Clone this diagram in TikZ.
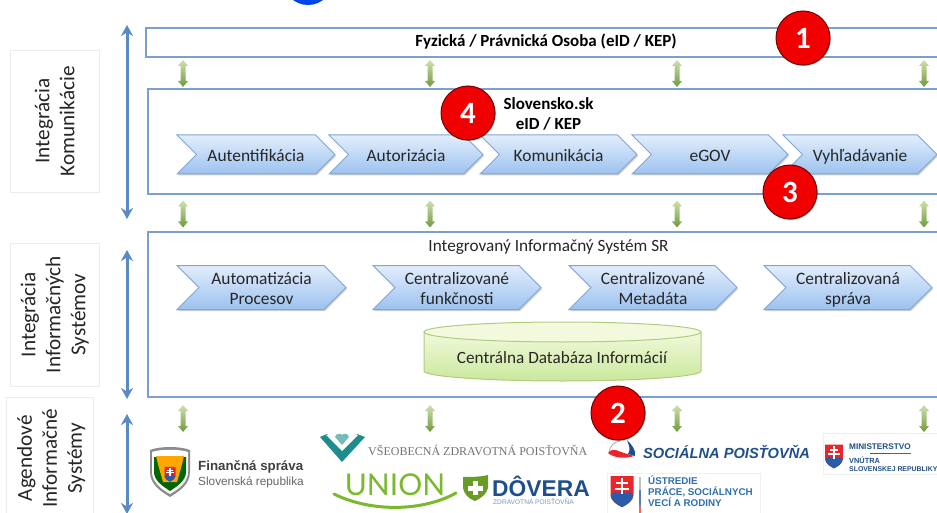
\documentclass[tikz,border=0pt]{standalone}
\usepackage{fontspec}
\setmainfont{Carlito}
\newfontfamily\lato{Lato}
\newfontfamily\libsans{Liberation Sans}
\newfontfamily\libserif{Liberation Serif}
\usetikzlibrary{shapes.symbols,shadows,arrows.meta}
\definecolor{frame}{HTML}{7BA0D0}
\definecolor{bluearrow}{HTML}{5A8AC6}
\definecolor{chevtop}{HTML}{E3EEFC}
\definecolor{chevbot}{HTML}{9CC2EF}
\definecolor{chevline}{HTML}{7FA6D6}
\definecolor{greentop}{HTML}{CFE0B0}
\definecolor{greenbot}{HTML}{6F9A3A}
\definecolor{txt}{HTML}{262626}
\definecolor{badge}{HTML}{F00000}
\definecolor{navy}{HTML}{1F4E8C}
\definecolor{ustblue}{HTML}{2F6FAE}
\definecolor{vszp}{HTML}{1C8C8C}
\definecolor{uniong}{HTML}{7AB82E}
\definecolor{slred}{HTML}{E8262C}
\definecolor{slblue}{HTML}{2A5CA8}
\definecolor{dbtop}{HTML}{F2F9DC}
\definecolor{dbbot}{HTML}{C9E89B}
\definecolor{dbline}{HTML}{B0CC80}
\newcommand{\ct}{\rule{0pt}{19pt}}
\newcommand{\cb}{\rule[-5pt]{0pt}{5pt}}
\tikzset{
  x=1pt,y=-1pt,
  panel/.style={draw=frame,line width=2pt,fill=white,anchor=north west,inner sep=0,outer sep=0},
  sidebox/.style={draw=black!8,line width=.5pt,fill=white,anchor=north west,inner sep=0},
  sidetext/.style={rotate=90,align=center,font=\fontsize{21.2}{25}\selectfont,text=txt},
  chev/.style={signal,signal to=east,signal from=west,signal pointer angle=90,
    draw=chevline,line width=1pt,top color=chevtop,bottom color=chevbot,
    inner sep=0,outer sep=0,minimum height=39pt,text=txt,align=center,
    font=\fontsize{17.4}{20}\selectfont,
    drop shadow={shadow xshift=1pt,shadow yshift=-1.5pt,opacity=.18,fill=black}},
  span/.style={{Stealth[length=11pt,width=12pt]}-{Stealth[length=11pt,width=12pt]},line width=3pt,draw=bluearrow},
  greenfill/.style={top color=greentop,bottom color=greenbot,draw=none},
  badgec/.style={circle,minimum size=54pt,inner sep=0,fill=badge,draw=black!55!red,line width=1pt,text=white,
    font=\bfseries\fontsize{31}{31}\selectfont,
    drop shadow={shadow xshift=.8pt,shadow yshift=-1pt,opacity=.3,fill=black}},
  label/.style={text=txt,align=center,font=\fontsize{17.2}{20}\selectfont,inner sep=0},
  strong/.style={text=black,align=center,font=\bfseries\fontsize{17}{20}\selectfont,inner sep=0},
  crest/.pic={
    \fill[slred] (-10,-13) -- (10,-13) -- (10,3) .. controls (10,9) and (4,12) .. (0,14) .. controls (-4,12) and (-10,9) .. (-10,3) -- cycle;
    \fill[slblue] (-10,4) .. controls (-7,0) and (-5,0) .. (-3.5,3) .. controls (-2,-1) and (2,-1) .. (3.5,3) .. controls (5,0) and (7,0) .. (10,4) .. controls (9,9) and (4,12) .. (0,14) .. controls (-4,12) and (-9,9) .. (-10,4) -- cycle;
    \fill[white] (-1,-11) rectangle (1,3);
    \fill[white] (-5,-7.5) rectangle (5,-5.7);
    \fill[white] (-6.5,-3) rectangle (6.5,-1);
  },
  updownarrow/.pic={
    \shade[greenfill] (0,-13.5) -- (5,-7.5) -- (2.5,-7.5) -- (2.5,7.5) -- (5,7.5) -- (0,13.5)
      -- (-5,7.5) -- (-2.5,7.5) -- (-2.5,-7.5) -- (-5,-7.5) -- cycle;
  },
}
\begin{document}
\begin{tikzpicture}
\useasboundingbox (0,0) rectangle (937,513);
\fill[white] (0,0) rectangle (937,513);
\clip (0,0) rectangle (937,513);

% fragment of a blue disc at the top edge
\fill[blue!70!cyan!90!black] (308,-20) circle (25);

% side labels
\node[sidebox,minimum width=89pt,minimum height=142pt] (s1) at (10,50) {};
\node[sidebox,minimum width=89pt,minimum height=143pt] (s2) at (10,243) {};
\node[sidebox,minimum width=87pt,minimum height=125pt] (s3) at (6,397) {};
\node[sidetext] (st1) at (s1.center) {Integrácia\\Komunikácie};
\node[sidetext] (st2) at (s2.center) {Integrácia\\Informačných\\Systémov};
\node[sidetext] (st3) at ([xshift=1.5pt,yshift=1.5pt]s3.center) {Agendové\\Informačné\\Systémy};

% panels
\node[panel,minimum width=810pt,minimum height=29pt] (p1) at (146,28) {};
\node[panel,minimum width=810pt,minimum height=105pt] (p2) at (148,89) {};
\node[panel,minimum width=810pt,minimum height=165pt] (p3) at (148,232) {};
\node[strong] (t1) at (546,41.5) {Fyzická / Právnická Osoba (eID / KEP)};
\node[strong] (t2) at (548.5,113.5) {Slovensko.sk\\eID / KEP};
\node[label] (t3) at (548.5,247) {Integrovaný Informačný Systém SR};

% span arrows
\coordinate (a1t) at (127,25); \coordinate (a1b) at (127,219);
\coordinate (a2t) at (127,250); \coordinate (a2b) at (127,399);
\coordinate (a3t) at (127,414); \coordinate (a3b) at (127,514);
\draw[span] (a1t) -- (a1b);
\draw[span] (a2t) -- (a2b);
\draw[span] (a3t) -- (a3b);

% green arrows
\foreach \gx in {183,430,677,924}{
  \pic at (\gx,73.5) {updownarrow};
  \pic at (\gx,214) {updownarrow};
  \pic at (\gx,418.5) {updownarrow};
}

% chevrons row 1
\node[chev,minimum width=158pt] (c1) at (256,154.5) {\ct\cb Autentifikácia};
\node[chev,minimum width=154pt] (c2) at (406,154.5) {\ct\cb Autorizácia};
\node[chev,minimum width=157pt] (c3) at (558.5,154.5) {\ct\cb Komunikácia};
\node[chev,minimum width=156pt] (c4) at (710,154.5) {\ct\cb eGOV};
\node[chev,minimum width=154pt] (c5) at (860,154.5) {\ct\cb Vyhľadávanie};
% chevrons row 2
\node[chev,minimum width=169pt] (d1) at (261.5,287.5) {\ct Automatizácia\\\cb Procesov};
\node[chev,minimum width=168pt] (d2) at (457,287.5) {\ct Centralizované\\\cb funkčnosti};
\node[chev,minimum width=168pt] (d3) at (653,287.5) {\ct Centralizované\\\cb Metadáta};
\node[chev,minimum width=168pt] (d4) at (848,287.5) {\ct Centralizovaná\\\cb správa};

% database cylinder
\shade[top color=dbtop,bottom color=dbbot,draw=dbline,line width=1pt]
  (424,332) -- (424,371) .. controls (424,376.5) and (486,381) .. (562.5,381)
  .. controls (639,381) and (701,376.5) .. (701,371) -- (701,332) -- cycle;
\path[fill=dbtop,draw=dbline,line width=1pt] (562.5,332) ellipse[x radius=138.5pt,y radius=10pt];
\node[label] (db) at (562,358) {Centrálna Databáza Informácií};

% Financna sprava logo
\fill[black!45] (150,450) .. controls (160,446) and (180,446) .. (190,450) -- (190,472) .. controls (190,485) and (178,492) .. (170,497) .. controls (162,492) and (150,485) .. (150,472) -- cycle;
\fill[white] (152,452) .. controls (160,449) and (180,449) .. (188,452) -- (188,472) .. controls (188,483) and (177,490) .. (170,494) .. controls (163,490) and (152,483) .. (152,472) -- cycle;
\fill[green!40!black] (154,457) -- (186,457) -- (186,472) .. controls (186,481) and (176,487) .. (170,491) .. controls (164,487) and (154,481) .. (154,472) -- cycle;
\fill[orange!70!yellow] (156,456) -- (184,456) -- (181,468) -- (177,482) -- (163,482) -- (159,468) -- cycle;
\pic[scale=.55] at (170,474) {crest};
\node[inner sep=0,anchor=west,text=black!75,font=\libsans\bfseries\fontsize{13.3}{15}\selectfont] (fs1) at (198,467) {Finančná správa};
\node[inner sep=0,anchor=west,text=black!60,font=\libsans\fontsize{11.8}{13}\selectfont] (fs2) at (198,482) {Slovenská republika};

% VsZP logo
\fill[vszp] (320,437) -- (327,434) -- (342,449) -- (357,434) -- (365,437) -- (342,462) -- cycle;
\fill[white] (326,435) -- (330,434) -- (342,446) -- (354,434) -- (358,435) -- (342,451) -- cycle;
\fill[vszp!60!white] (342,445) -- (335,437) .. controls (336,433) and (341,433) .. (342,435) .. controls (343,433) and (348,433) .. (349,437) -- cycle;
\node[inner sep=0,anchor=west,text=black!55,font=\libserif\fontsize{12}{13}\selectfont] (vz) at (368,450) {VŠEOBECNÁ ZDRAVOTNÁ POISŤOVŇA};

% Union logo
\node[inner sep=0,text=uniong,font=\lato\fontsize{30}{30}\selectfont] (un) at (395,485) {UNION};
\draw[uniong,line width=3pt,line cap=round] (334,494) .. controls (370,512) and (422,512) .. (456,493);

% Dovera logo
\fill[uniong!85!black] (463,477) .. controls (470,477) and (480,477) .. (488,475) -- (488,488) .. controls (487,494) and (480,499) .. (475,501) .. controls (469,499) and (463,494) .. (463,486) -- cycle;
\fill[white] (473,481) rectangle (478,495);
\fill[white] (468,485.5) rectangle (483,490.5);
\node[inner sep=0,anchor=west,text=navy,font=\libsans\bfseries\fontsize{22.8}{24}\selectfont] (do) at (492,486) {DÔVERA};
\node[inner sep=0,anchor=west,text=navy!60,font=\libsans\fontsize{6.6}{7}\selectfont] (do2) at (493,501.5) {ZDRAVOTNÁ POISŤOVŇA};

% Socialna poistovna logo
\draw[black!35,line width=.8pt] (609,452) .. controls (610,446) and (614,442) .. (620,441);
\fill[slred] (608,453) .. controls (611,450) and (613,449) .. (616,450) .. controls (620,452) and (628,454) .. (634,456) .. controls (625,459) and (614,458) .. (608,453) -- cycle;
\fill[navy] (627,440) .. controls (632,445) and (636,450) .. (635,456) -- (628,454) .. controls (631,450) and (629,445) .. (627,440) -- cycle;
\node[inner sep=0,anchor=west,text=navy,font=\libsans\bfseries\itshape\fontsize{14.65}{16}\selectfont] (so) at (643,452) {SOCIÁLNA POISŤOVŇA};

% Ministerstvo logo
\node[draw=black!6,line width=.4pt,fill=white,anchor=north west,inner sep=0,minimum width=125pt,minimum height=41pt] (mv) at (823,433) {};
\pic[scale=.88] at (834,456) {crest};
\node[inner sep=0,anchor=west,text=navy,font=\libsans\bfseries\fontsize{8.2}{9}\selectfont] (mv1) at (849,447) {MINISTERSTVO};
\draw[slblue,line width=.8pt] (870,453) -- (890,453);
\draw[slred,line width=.8pt] (890,453) -- (911,453);
\node[inner sep=0,anchor=west,text=navy,font=\libsans\bfseries\fontsize{7.4}{9}\selectfont] (mv2) at (849,460) {VNÚTRA};
\node[inner sep=0,anchor=west,text=navy,font=\libsans\bfseries\fontsize{6.9}{9}\selectfont] (mv3) at (849,469) {SLOVENSKEJ REPUBLIKY};

% Ustredie logo
\node[draw=black!6,line width=.4pt,fill=white,anchor=north west,inner sep=0,minimum width=153pt,minimum height=45pt] (us) at (607,473) {};
\pic[scale=1.15] at (622,491) {crest};
\draw[black!25,line width=1.2pt] (640,477) -- (640,490);
\draw[slblue!80!white,line width=1.2pt] (640,490) -- (640,505);
\draw[slred!70!white,line width=1.2pt] (640,505) -- (640,514);
\node[inner sep=0,anchor=west,align=left,text=ustblue,font=\libsans\bfseries\fontsize{9.8}{11}\selectfont] (us1) at (648,491) {ÚSTREDIE\\PRÁCE, SOCIÁLNYCH\\VECÍ A RODINY};

% number badges
\node[badgec] (b1) at (803,38) {1};
\node[badgec] (b4) at (468,113) {4};
\node[badgec] (b3) at (790,192) {3};
\node[badgec] (b2) at (618,413) {2};
\end{tikzpicture}
\end{document}
